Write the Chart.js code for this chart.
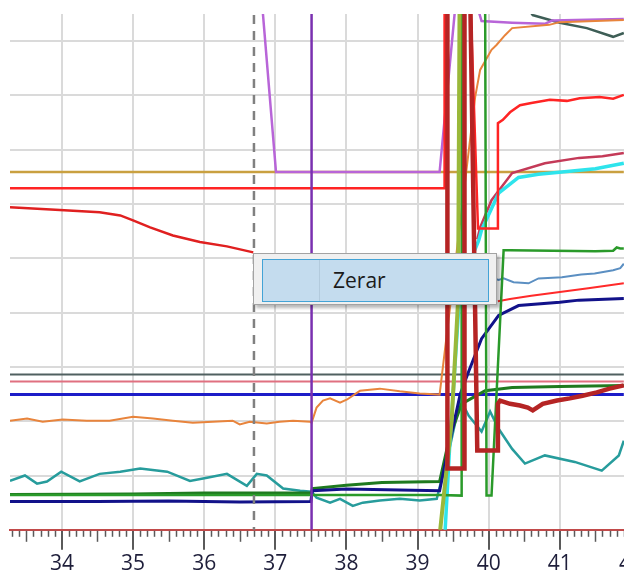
<!DOCTYPE html>
<html>
<head>
<meta charset="utf-8">
<script src="https://cdn.jsdelivr.net/npm/chart.js@4.4.1/dist/chart.umd.min.js"></script>
<style>
  html, body { margin: 0; padding: 0; background: #fff; overflow: hidden; }
  #wrap { position: relative; width: 624px; height: 576px; overflow: hidden; }
  #menu {
    position: absolute; left: 253px; top: 253px; width: 242px; height: 50px;
    background: #f0f0f0; border: 1px solid #a3a3a3;
    box-shadow: 3px 3px 3px rgba(0,0,0,0.28);
  }
  #item {
    position: absolute; left: 8px; top: 5px; width: 225px; height: 41px;
    background: #c4dcee; border: 1px solid #43a3d6;
  }
  #sep { position: absolute; left: 56px; top: 0; width: 1px; height: 41px; background: #b3cbdd; }
  #label {
    position: absolute; left: 70px; top: 6px;
    font-family: "Open Sans", sans-serif; font-size: 21px; color: #1b1b1b;
  }
</style>
</head>
<body>
<div id="wrap">
  <canvas id="chart" width="680" height="579"></canvas>
  <div id="menu"><div id="item"><div id="sep"></div><div id="label">Zerar</div></div></div>
</div>
<script>
// x axis (time) and tick labels
const xMin = 33.27;
const xMax = 42.69;
const xTicks = [34, 35, 36, 37, 38, 39, 40, 41, 42];
const yTicks = [0, 1, 2, 3, 4, 5, 6, 7, 8, 9];

// markers
const cursorX = [37.51, 37.51];
const cursorY = [-1, 11];
const dashX = [36.70, 36.70];
const dashY = [-1, 11];

// series
const goldX = [33.27, 41.9];
const goldY = [6.59, 6.59];

const redX = [33.27, 39.38, 39.38, 39.74, 39.85, 40.13, 40.13, 40.2, 40.3, 40.44, 40.6, 40.86, 41.1, 41.28, 41.56, 41.75, 41.9];
const redY = [6.29, 6.29, 9.9, 9.9, 5.55, 5.55, 7.49, 7.55, 7.69, 7.82, 7.86, 7.92, 7.9, 7.95, 7.97, 7.94, 8.01];

const redCurveX = [33.27, 33.97, 34.53, 34.82, 35.0, 35.24, 35.56, 35.94, 36.32, 36.69];
const redCurveY = [5.94, 5.89, 5.85, 5.79, 5.70, 5.57, 5.42, 5.30, 5.22, 5.11];

const purpleX = [36.82, 37.01, 39.31, 39.55, 39.78, 39.90, 40.33, 40.79, 40.89, 41.9];
const purpleY = [9.6, 6.59, 6.59, 9.9, 9.9, 9.37, 9.34, 9.32, 9.38, 9.41];

const orangeX = [33.27, 33.51, 33.73, 34.01, 34.35, 34.67, 35.0, 35.28, 35.56, 35.84, 36.12, 36.4, 36.5, 36.64, 36.88, 37.06, 37.25, 37.49,
  37.51, 37.58, 37.67, 37.77, 37.91, 38.01, 38.19, 38.47, 38.75, 39.03, 39.31, 39.81, 39.88, 40.04, 40.11, 40.23, 40.33, 40.85, 41.0, 41.9];
const orangeY = [2.01, 2.05, 1.99, 2.03, 2.01, 2.01, 2.08, 2.05, 2.01, 1.97, 1.99, 2.01, 1.94, 1.99, 1.96, 1.99, 2.01, 1.99,
  1.97, 2.25, 2.38, 2.42, 2.34, 2.40, 2.56, 2.60, 2.55, 2.51, 2.49, 7.97, 8.47, 8.84, 8.93, 9.11, 9.24, 9.30, 9.35, 9.39];

const tealX = [33.27, 33.48, 33.65, 33.79, 33.99, 34.25, 34.53, 34.82, 35.1, 35.48, 35.8, 36.04, 36.32, 36.6, 36.74, 36.88, 37.11, 37.35, 37.51,
  37.58, 37.77, 37.91, 38.09, 38.23, 38.47, 38.75, 39.03, 39.27, 39.45, 39.6, 39.72, 39.9, 40.02, 40.14, 40.33, 40.51, 40.79, 41.21, 41.59, 41.83, 41.9];
const tealY = [0.90, 1.00, 0.85, 0.89, 1.07, 0.89, 1.03, 1.07, 1.13, 1.07, 0.90, 0.96, 1.03, 0.81, 1.03, 1.00, 0.76, 0.72, 0.70,
  0.59, 0.50, 0.57, 0.44, 0.50, 0.54, 0.57, 0.54, 0.57, 1.5, 2.4, 2.10, 1.81, 2.18, 1.86, 1.49, 1.22, 1.37, 1.25, 1.09, 1.37, 1.64];

const blueX = [33.27, 41.9];
const blueY = [2.49, 2.49];
const slateX = [33.27, 41.9];
const slateY = [2.86, 2.86];
const roseX = [33.27, 41.9];
const roseY = [2.73, 2.73];

const navyX = [33.27, 34.5, 35.5, 36.5, 37.5, 37.52, 38.0, 39.31, 39.45, 39.6, 39.72, 39.9, 40.14, 40.42, 41.0, 41.27, 41.9];
const navyY = [0.52, 0.52, 0.53, 0.51, 0.52, 0.72, 0.75, 0.72, 1.6, 2.5, 2.92, 3.52, 3.95, 4.13, 4.19, 4.23, 4.26];

const dkGreenX = [33.27, 35.0, 36.0, 37.0, 37.51, 37.52, 38.0, 38.5, 39.31, 39.45, 39.62, 39.95, 40.33, 41.0, 41.9];
const dkGreenY = [0.65, 0.66, 0.68, 0.68, 0.68, 0.76, 0.82, 0.87, 0.89, 1.7, 2.32, 2.56, 2.62, 2.64, 2.66];

const greenX = [33.27, 37.5, 39.31, 39.62, 39.62, 39.95, 39.97, 40.04, 40.21, 40.3, 41.5, 41.75, 41.8, 41.85, 41.9];
const greenY = [0.64, 0.64, 0.64, 0.63, 9.9, 9.9, 0.63, 0.63, 5.15, 5.15, 5.13, 5.14, 5.2, 5.18, 5.18];

const oliveX = [39.31, 39.48, 39.57, 39.59, 39.6];
const oliveY = [-0.11, 2.01, 4.23, 9.5, 9.9];

const cyanX = [39.38, 39.45, 39.6, 39.86, 39.90, 40.14, 40.42, 40.7, 41.03, 41.5, 41.9];
const cyanY = [-0.2, 1.5, 4.5, 5.33, 5.52, 6.20, 6.49, 6.55, 6.59, 6.65, 6.75];

const crimsonX = [39.84, 39.88, 40.04, 40.33, 40.79, 41.27, 41.6, 41.9];
const crimsonY = [5.35, 5.57, 6.07, 6.57, 6.75, 6.85, 6.88, 6.94];

const steelX = [39.9, 40.14, 40.21, 40.35, 40.56, 40.7, 41.03, 41.3, 41.49, 41.75, 41.85, 41.9];
const steelY = [4.7, 4.60, 4.63, 4.56, 4.54, 4.63, 4.65, 4.70, 4.72, 4.78, 4.82, 4.90];

const redLowX = [40.13, 40.3, 40.6, 41.0, 41.4, 41.9];
const redLowY = [4.21, 4.25, 4.31, 4.38, 4.45, 4.54];

const dkRedX = [39.42, 39.42, 39.66, 39.66, 39.74, 39.84, 40.13, 40.13, 40.16, 40.3, 40.44, 40.55, 40.62, 40.76, 40.96, 41.14, 41.32, 41.52, 41.7, 41.9];
const dkRedY = [9.9, 1.13, 1.13, 9.9, 9.9, 1.46, 1.46, 2.32, 2.38, 2.32, 2.29, 2.25, 2.20, 2.32, 2.38, 2.42, 2.47, 2.53, 2.60, 2.66];

const dkSlateX = [40.5, 40.62, 41.0, 41.38, 41.75, 41.9];
const dkSlateY = [9.7, 9.48, 9.34, 9.24, 9.08, 9.15];

function pts(xs, ys) {
  return xs.map((x, i) => ({ x: x, y: ys[i] }));
}

function line(xs, ys, color, width, extra) {
  return Object.assign({
    data: pts(xs, ys),
    borderColor: color,
    borderWidth: width,
    pointRadius: 0,
    tension: 0,
    fill: false
  }, extra || {});
}

// first dataset is drawn on top
const datasets = [
  line(dkRedX, dkRedY, "#b52424", 4.5),
  line(cursorX, cursorY, "#7a30b0", 2.5),
  line(dashX, dashY, "#808080", 2.5, { borderDash: [9, 7] }),
  line(redX, redY, "#ff2424", 2.5),
  line(oliveX, oliveY, "#9ab83a", 4),
  line(greenX, greenY, "#2a9a2a", 2.5),
  line(cyanX, cyanY, "#2ee4ec", 3.5),
  line(crimsonX, crimsonY, "#c43a58", 2.5),
  line(orangeX, orangeY, "#e8843c", 2),
  line(purpleX, purpleY, "#b865d8", 2.5),
  line(redCurveX, redCurveY, "#e02020", 2.5),
  line(navyX, navyY, "#12128a", 3),
  line(dkGreenX, dkGreenY, "#1f7a1f", 3),
  line(tealX, tealY, "#279c9c", 2.5),
  line(steelX, steelY, "#5b8fc2", 2),
  line(redLowX, redLowY, "#ff2a2a", 2),
  line(dkSlateX, dkSlateY, "#3e5e56", 2.5),
  line(blueX, blueY, "#1c1cc8", 3),
  line(roseX, roseY, "#e07080", 2),
  line(slateX, slateY, "#506060", 2),
  line(goldX, goldY, "#c9a040", 2.5)
];

const minorTicks = {
  id: "minorTicks",
  afterDraw(chart) {
    const sx = chart.scales.x;
    const c = chart.ctx;
    const top = chart.chartArea.bottom + 1;
    c.save();
    c.strokeStyle = "#5a5a5a";
    c.lineWidth = 1.5;
    for (let i = Math.ceil(sx.min * 10); i <= sx.max * 10; i++) {
      if (i % 10 === 0) continue;
      const px = Math.round(sx.getPixelForValue(i / 10)) + 0.5;
      const len = i % 5 === 0 ? 11 : 6;
      c.beginPath();
      c.moveTo(px, top);
      c.lineTo(px, top + len);
      c.stroke();
    }
    c.restore();
  }
};

new Chart(document.getElementById("chart"), {
  type: "line",
  data: { datasets: datasets },
  options: {
    responsive: false,
    animation: false,
    layout: { padding: { left: 10, top: 14, right: 0, bottom: 0 } },
    plugins: { legend: { display: false }, tooltip: { enabled: false } },
    scales: {
      x: {
        type: "linear",
        min: xMin,
        max: xMax,
        afterBuildTicks: s => { s.ticks = xTicks.map(v => ({ value: v })); },
        ticks: {
          autoSkip: false,
          maxRotation: 0,
          padding: 2,
          color: "#1e1e3a",
          font: { family: "Open Sans", size: 21 },
          callback: v => String(v)
        },
        grid: { color: "#dadada", lineWidth: 2, tickLength: 20, tickColor: "#5a5a5a", tickWidth: 2 },
        border: { color: "#c24a4a", width: 2 }
      },
      y: {
        min: 0,
        max: 9.5,
        afterBuildTicks: s => { s.ticks = yTicks.map(v => ({ value: v })); },
        ticks: { display: false },
        grid: { color: "#dadada", lineWidth: 2, drawTicks: false },
        border: { display: false }
      }
    }
  },
  plugins: [minorTicks]
});
</script>
</body>
</html>
